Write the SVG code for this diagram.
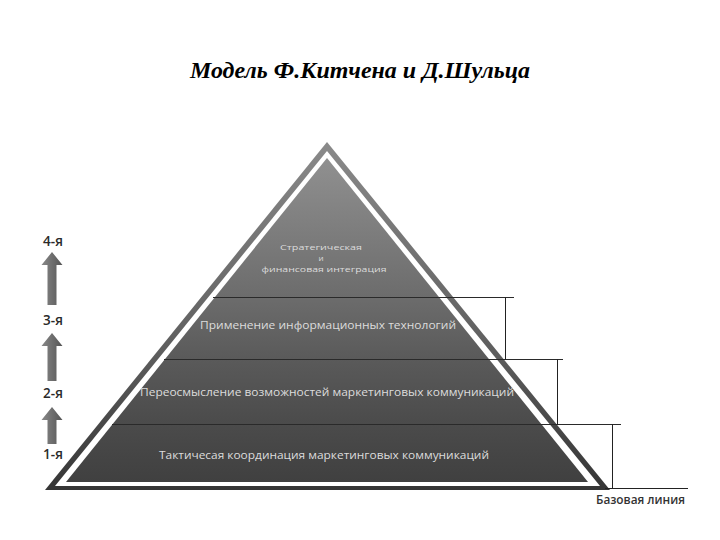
<svg xmlns="http://www.w3.org/2000/svg" width="720" height="540" viewBox="0 0 720 540">
  <style>
    .title { font-family: "Liberation Serif", "Times New Roman", serif; font-weight: bold; font-style: italic; font-size: 23px; fill: #000; }
    .lvl { font-family: "Open Sans", "DejaVu Sans", sans-serif; font-size: 10.5px; fill: #dcdcdc; text-anchor: middle; }
    .lvl4 { font-family: "Open Sans", "DejaVu Sans", sans-serif; font-size: 8px; fill: #dcdcdc; text-anchor: middle; }
    .side { font-family: "Open Sans", "DejaVu Sans", sans-serif; font-size: 13.5px; font-weight: 600; fill: #2a2a2a; text-anchor: middle; }
    .base { font-family: "Open Sans", "DejaVu Sans", sans-serif; font-size: 12px; font-weight: 600; fill: #333; }
    .div { stroke: #2a2a2a; stroke-width: 1; fill: none; }
    .conn { stroke: #222; stroke-width: 1; fill: none; }
    .arrow { fill: url(#arrowGrad); }
  </style>
  <defs>
    <linearGradient id="outerGrad" gradientUnits="userSpaceOnUse" x1="0" y1="142" x2="0" y2="490">
      <stop offset="0" stop-color="#8a8a8a"/>
      <stop offset="0.6" stop-color="#5e5e5e"/>
      <stop offset="1" stop-color="#353535"/>
    </linearGradient>
    <linearGradient id="innerGrad" gradientUnits="userSpaceOnUse" x1="0" y1="158" x2="0" y2="482">
      <stop offset="0" stop-color="#909090"/>
      <stop offset="0.43" stop-color="#6c6c6c"/>
      <stop offset="0.62" stop-color="#5a5a5a"/>
      <stop offset="0.82" stop-color="#4b4b4b"/>
      <stop offset="1" stop-color="#404040"/>
    </linearGradient>
    <linearGradient id="arrowGrad" x1="0" y1="0" x2="1" y2="0">
      <stop offset="0" stop-color="#888"/>
      <stop offset="1" stop-color="#555"/>
    </linearGradient>
  </defs>
  <rect width="720" height="540" fill="#fff"/>

  <g id="title">
    <text class="title" x="360" y="78" text-anchor="middle" textLength="340" lengthAdjust="spacingAndGlyphs">Модель Ф.Китчена и Д.Шульца</text>
  </g>

  <g id="pyramid">
    <polygon points="327,142 45,490 610,490" fill="url(#outerGrad)"/>
    <polygon points="327,151 55,486 600,486" fill="#fff"/>
    <polygon points="327,158 66,482 588,482" fill="url(#innerGrad)"/>
  </g>

  <g id="level4">
    <text class="lvl4" x="321" y="250" textLength="82" lengthAdjust="spacingAndGlyphs">Стратегическая</text>
    <text class="lvl4" x="321" y="261">и</text>
    <text class="lvl4" x="324" y="272" textLength="125" lengthAdjust="spacingAndGlyphs">финансовая интеграция</text>
  </g>
  <g id="level3">
    <text class="lvl" x="328" y="329" textLength="256" lengthAdjust="spacingAndGlyphs">Применение информационных технологий</text>
  </g>
  <g id="level2">
    <text class="lvl" x="327" y="396" textLength="374" lengthAdjust="spacingAndGlyphs">Переосмысление возможностей маркетинговых коммуникаций</text>
  </g>
  <g id="level1">
    <text class="lvl" x="324" y="459" textLength="330" lengthAdjust="spacingAndGlyphs">Тактичесая координация маркетинговых коммуникаций</text>
  </g>

  <g id="connectors">
    <line class="div" x1="213" y1="297.5" x2="514" y2="297.5"/>
    <line class="div" x1="164" y1="359.5" x2="563" y2="359.5"/>
    <line class="div" x1="112" y1="424.5" x2="621" y2="424.5"/>
    <line class="conn" x1="505.5" y1="297" x2="505.5" y2="360"/>
    <line class="conn" x1="557.5" y1="359" x2="557.5" y2="425"/>
    <line class="conn" x1="612.5" y1="424" x2="612.5" y2="489"/>
    <line class="conn" x1="605" y1="488.5" x2="688" y2="488.5"/>
  </g>

  <g id="baseline-label">
    <text class="base" x="596" y="504" textLength="89" lengthAdjust="spacingAndGlyphs">Базовая линия</text>
  </g>

  <g id="stages">
    <text class="side" x="53" y="246">4-я</text>
    <path class="arrow" d="M52,252 L62.5,265 L56.5,265 L56.5,305 L47.5,305 L47.5,265 L41.5,265 Z"/>
    <text class="side" x="53" y="325">3-я</text>
    <path class="arrow" d="M52,333 L62.5,346 L56.5,346 L56.5,381 L47.5,381 L47.5,346 L41.5,346 Z"/>
    <text class="side" x="53" y="398">2-я</text>
    <path class="arrow" d="M52,407 L62.5,420 L56.5,420 L56.5,444 L47.5,444 L47.5,420 L41.5,420 Z"/>
    <text class="side" x="53" y="459">1-я</text>
  </g>
</svg>
